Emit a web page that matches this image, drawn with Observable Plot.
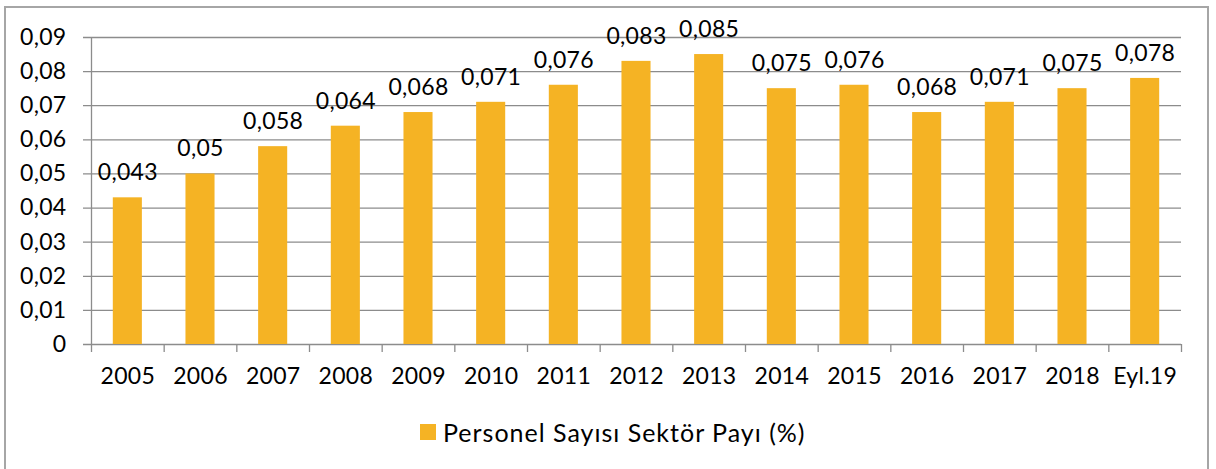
<!DOCTYPE html>
<html>
<head>
<meta charset="utf-8">
<script src="https://cdn.jsdelivr.net/npm/d3@7"></script>
<script src="https://cdn.jsdelivr.net/npm/@observablehq/plot@0.6"></script>
<style>
  html, body { margin: 0; padding: 0; background: #fff; width: 1216px; height: 469px; overflow: hidden; }
  #frame { position: absolute; left: 4px; top: 6px; width: 1205px; height: 480px; border: 2px solid #a6a6a6; box-sizing: border-box; }
  #chart { position: absolute; left: 0; top: 0; }
  #legend { position: absolute; left: 420px; top: 417px; display: flex; align-items: center; font-family: Lato, "Open Sans", sans-serif; font-size: 25px; letter-spacing: 1px; color: #000; }
  #legend .sw { width: 16px; height: 16px; background: #F5B324; margin-right: 7px; }
</style>
</head>
<body>
<div id="frame"></div>
<div id="chart"></div>
<div id="legend"><div class="sw"></div><span>Personel Sayısı Sektör Payı (%)</span></div>
<script>
const categories = ["2005","2006","2007","2008","2009","2010","2011","2012","2013","2014","2015","2016","2017","2018","Eyl.19"];
const values = [0.043,0.05,0.058,0.064,0.068,0.071,0.076,0.083,0.085,0.075,0.076,0.068,0.071,0.075,0.078];
const yTicks = [0,0.01,0.02,0.03,0.04,0.05,0.06,0.07,0.08,0.09];
const seriesName = "Personel Sayısı Sektör Payı (%)";

const data = categories.map((c, i) => ({cat: c, value: values[i]}));
const fmt = d => d === 0 ? "0" : String(d).replace(".", ",");
const fmtTick = d => d === 0 ? "0" : d3.format(".2f")(d).replace(".", ",");

const W = 1216, H = 400, mL = 91, mR = 35, mT = 37, mB = 56;
const step = (W - mL - mR) / categories.length;
const grey = "#8c8c8c";
const font = "Lato, 'Open Sans', sans-serif";

const chart = Plot.plot({
  width: W,
  height: H,
  marginLeft: mL,
  marginRight: mR,
  marginTop: mT,
  marginBottom: mB,
  style: {fontFamily: font, fontSize: "23px", color: "#000", background: "transparent", overflow: "visible", letterSpacing: "0.3px"},
  x: {domain: categories, paddingInner: 0.6, paddingOuter: 0.3, align: 0.5, round: false, label: null},
  y: {domain: [0, 0.09], label: null},
  marks: [
    Plot.ruleY(yTicks, {y: d => d, stroke: grey, strokeWidth: 1.3, strokeOpacity: 1, insetLeft: -8}),
    Plot.barY(data, {x: "cat", y: "value", fill: "#F5B324"}),
    Plot.ruleX([categories[0]], {x: d => d, dx: -step / 2, y1: 0, y2: 0.09, stroke: grey, strokeWidth: 1.3}),
    Plot.ruleX(categories, {x: d => d, dx: -step / 2, y1: 0, y2: 0, insetBottom: -8, stroke: grey, strokeWidth: 1.3}),
    Plot.ruleX([categories[categories.length - 1]], {x: d => d, dx: step / 2, y1: 0, y2: 0, insetBottom: -8, stroke: grey, strokeWidth: 1.3}),
    Plot.text(data, {x: "cat", y: "value", text: d => fmt(d.value), dy: -25, lineAnchor: "middle", fontSize: 23, fill: "#000"}),
    Plot.axisY(yTicks, {tickSize: 0, tickPadding: 25, tickFormat: fmtTick, fontSize: 23, fill: "#000"}),
    Plot.axisX({tickSize: 0, tickPadding: 23, fontSize: 23, fill: "#000"})
  ]
});
document.getElementById("chart").appendChild(chart);
</script>
</body>
</html>
